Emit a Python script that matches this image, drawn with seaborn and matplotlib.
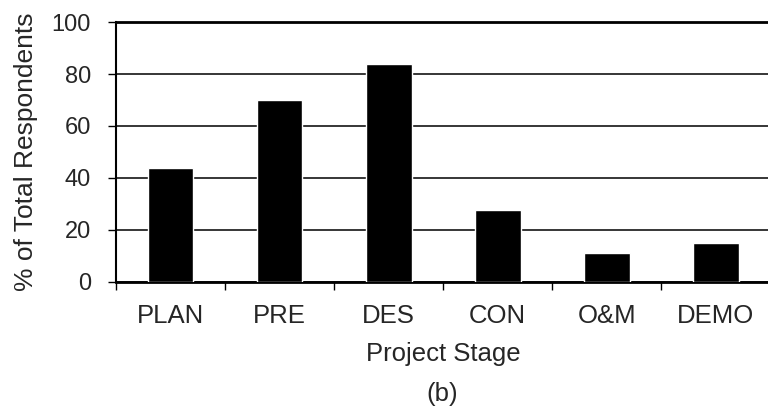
import numpy as np
import pandas as pd
import matplotlib
matplotlib.use("Agg")
import matplotlib.pyplot as plt
import seaborn as sns

stages = ["PLAN", "PRE", "DES", "CON", "O&M", "DEMO"]
pct_respondents = [44, 70, 84, 27.5, 11, 15]
y_ticks = [0, 20, 40, 60, 80, 100]

df = pd.DataFrame({"stage": stages, "pct": pct_respondents})

sns.set_style("white")
plt.rcParams["font.family"] = ["Liberation Sans", "DejaVu Sans"]

fig = plt.figure(figsize=(7.68, 4.09), dpi=100)
ax = fig.add_axes([0.151, 0.311, 0.852, 0.635])

sns.barplot(data=df, x="stage", y="pct", color="black", width=0.42,
            saturation=1, ax=ax, zorder=3)

ax.set_ylim(0, 100)
ax.set_xlim(-0.5, len(stages) - 0.5)
ax.set_yticks(y_ticks)
ax.yaxis.grid(True, color="black", lw=1.1)
ax.set_axisbelow(True)

# ticks between the categories, labels centred under bars
ax.set_xticks(np.arange(len(stages)) - 0.5, minor=True)
ax.tick_params(axis="x", which="major", length=0, labelsize=18.5, pad=16)
ax.tick_params(axis="x", which="minor", length=6, width=1, direction="out",
               bottom=True, color="black")
ax.tick_params(axis="y", length=6, width=1, direction="out", left=True,
               color="black", labelsize=17, pad=12)

for side in ["left", "bottom", "top"]:
    ax.spines[side].set_color("black")
ax.spines["left"].set_linewidth(1.5)
ax.spines["bottom"].set_linewidth(2)
ax.spines["top"].set_linewidth(2)
ax.spines["right"].set_visible(False)

ax.set_xlabel("Project Stage", fontsize=18.5, labelpad=10)
ax.set_ylabel("% of Total Respondents", fontsize=19, labelpad=10)
fig.text(0.576, 0.036, "(b)", ha="center", va="center", fontsize=18.5)

fig.savefig("out.png", dpi=100)
